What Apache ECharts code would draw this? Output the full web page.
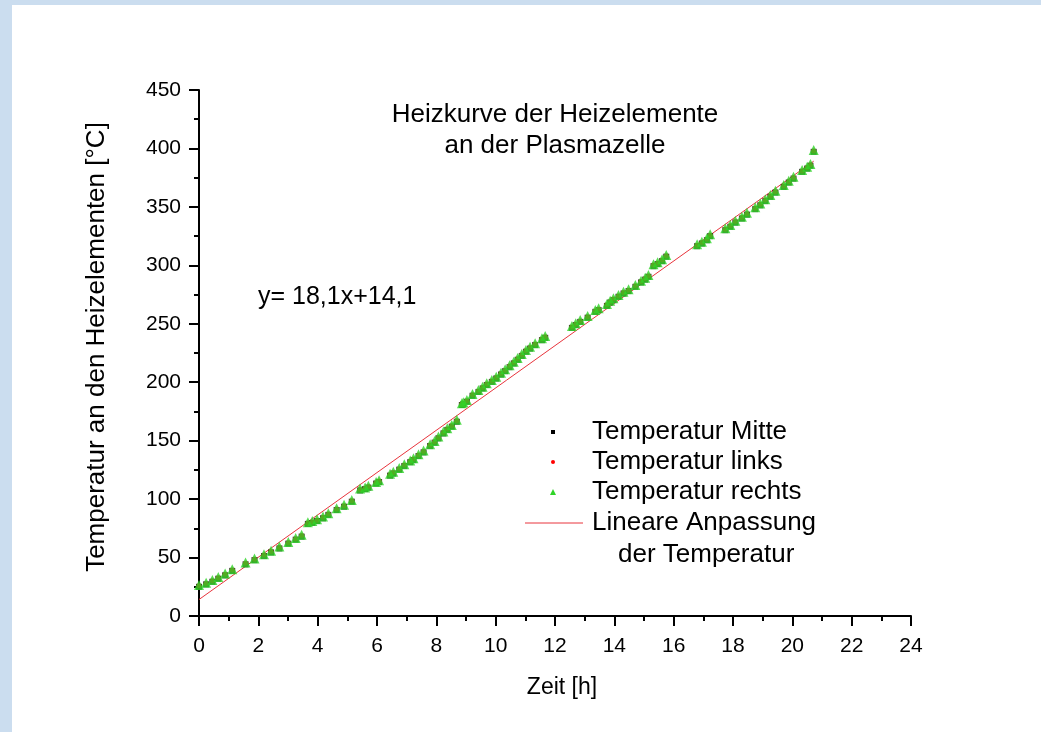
<!DOCTYPE html>
<html>
<head>
<meta charset="utf-8">
<title>Heizkurve</title>
<script src="https://cdn.jsdelivr.net/npm/echarts@6/dist/echarts.min.js"></script>
<style>
html, body { margin: 0; padding: 0; background: #fff; }
#main { width: 1041px; height: 732px; }
</style>
</head>
<body>
<div id="main"></div>
<script>
// Zeit [h]
var zeit = [0.00, 0.24, 0.45, 0.65, 0.88, 1.12, 1.57, 1.87, 2.19, 2.43,
  2.71, 3.01, 3.26, 3.46, 3.67, 3.82, 3.98, 4.18, 4.36, 4.64,
  4.89, 5.15, 5.43, 5.60, 5.71, 5.97, 6.07, 6.44, 6.55, 6.75,
  6.92, 7.12, 7.23, 7.40, 7.57, 7.79, 7.94, 8.07, 8.24, 8.37,
  8.52, 8.69, 8.86, 8.91, 9.03, 9.22, 9.42, 9.56, 9.70, 9.87,
  10.02, 10.18, 10.32, 10.47, 10.61, 10.74, 10.88, 11.02, 11.16, 11.33,
  11.56, 11.67, 12.57, 12.70, 12.85, 13.10, 13.36, 13.47, 13.75, 13.86,
  13.97, 14.14, 14.31, 14.48, 14.71, 14.90, 15.04, 15.15, 15.32, 15.46,
  15.61, 15.75, 16.79, 16.95, 17.12, 17.23, 17.74, 17.91, 18.08, 18.30,
  18.47, 18.75, 18.92, 19.09, 19.26, 19.43, 19.71, 19.88, 20.04, 20.33,
  20.50, 20.61, 20.72];

// Temperatur Mitte
var tempMitte = [25.0, 27.1, 29.3, 31.9, 34.8, 38.6, 44.2, 47.8, 51.3, 54.4,
  57.8, 61.9, 65.3, 67.9, 78.8, 79.6, 81.3, 83.6, 86.5, 90.7,
  93.5, 97.8, 107.4, 108.6, 109.8, 113.3, 114.6, 120.1, 121.9, 125.2,
  128.3, 131.6, 133.4, 136.9, 140.0, 145.4, 148.3, 152.0, 156.2, 159.2,
  162.0, 166.2, 180.5, 181.2, 183.3, 188.4, 191.7, 194.7, 197.6, 200.3,
  203.2, 206.6, 209.5, 212.9, 216.1, 219.2, 222.5, 226.1, 228.8, 231.8,
  236.0, 238.0, 246.5, 248.9, 251.6, 255.2, 260.2, 261.7, 265.3, 268.2,
  270.2, 273.1, 275.9, 278.0, 281.6, 285.4, 287.8, 290.2, 299.3, 301.1,
  303.6, 307.4, 316.4, 318.7, 321.5, 325.0, 330.1, 333.0, 336.6, 340.1,
  343.4, 348.1, 351.4, 355.0, 358.6, 362.3, 367.1, 370.9, 374.2, 380.0,
  382.8, 385.2, 397.1];

// Temperatur links
var tempLinks = [25.8, 27.9, 30.1, 32.7, 35.7, 39.3, 45.1, 48.5, 52.1, 55.2,
  58.6, 62.7, 66.1, 68.8, 79.5, 80.5, 82.0, 84.5, 87.2, 91.5,
  94.3, 98.5, 108.3, 109.2, 110.7, 114.0, 115.4, 120.9, 122.8, 125.9,
  129.2, 132.2, 134.3, 137.7, 140.7, 146.3, 149.0, 152.8, 157.0, 160.0,
  162.8, 167.0, 181.3, 182.0, 184.1, 189.2, 192.5, 195.5, 198.4, 201.1,
  204.0, 207.4, 210.3, 213.8, 216.8, 220.0, 223.3, 226.9, 229.6, 232.6,
  236.9, 238.8, 247.3, 249.7, 252.4, 256.0, 261.0, 262.5, 266.2, 268.9,
  271.1, 273.8, 276.8, 278.7, 282.5, 286.1, 288.7, 290.9, 300.2, 301.8,
  304.5, 308.1, 317.2, 319.5, 322.3, 325.8, 330.9, 333.8, 337.4, 340.9,
  344.2, 348.9, 352.2, 355.8, 359.4, 363.0, 367.9, 371.6, 375.1, 380.8,
  383.6, 386.0, 397.9];

// Temperatur rechts
var tempRechts = [26.5, 28.5, 30.9, 33.4, 36.4, 40.0, 45.8, 49.2, 52.9, 55.8,
  59.4, 63.4, 66.8, 69.5, 80.2, 81.2, 82.8, 85.2, 88.0, 92.2,
  95.1, 99.2, 109.0, 110.0, 111.4, 114.7, 116.2, 121.6, 123.5, 126.7,
  129.9, 133.0, 135.0, 138.4, 141.5, 147.0, 149.8, 153.5, 157.8, 160.7,
  163.5, 167.8, 182.0, 182.8, 184.8, 189.9, 193.3, 196.2, 199.1, 201.9,
  204.7, 208.2, 211.0, 214.5, 217.6, 220.7, 224.1, 227.6, 230.4, 233.3,
  237.6, 239.5, 248.1, 250.4, 253.2, 256.7, 261.8, 263.2, 266.9, 269.7,
  271.8, 274.6, 277.5, 279.5, 283.2, 286.9, 289.4, 291.7, 300.9, 302.6,
  305.2, 308.9, 318.0, 320.2, 323.1, 326.5, 331.7, 334.5, 338.2, 341.6,
  345.0, 349.6, 353.0, 356.5, 360.2, 363.8, 368.7, 372.4, 375.8, 381.5,
  384.4, 386.7, 398.7];

// Lineare Anpassung y = 18,1x + 14,1 (Endpunkte)
var fitZeit = [0, 20.72];
var fitTemp = [14.1, 389.1];

function pairs(xs, ys) {
  return xs.map(function (x, i) { return [x, ys[i]]; });
}

var font = "'Liberation Sans', Arial, sans-serif";
var chart = echarts.init(document.getElementById('main'));

chart.setOption({
  animation: false,
  backgroundColor: '#fff',
  textStyle: { fontFamily: font, color: '#000' },
  title: {
    text: 'Heizkurve der Heizelemente\nan der Plasmazelle',
    left: 550,
    top: 94,
    textAlign: 'center',
    textStyle: { fontFamily: font, fontSize: 26, fontWeight: 'normal', lineHeight: 31, color: '#000' }
  },
  grid: { left: 199, right: 130, top: 90, bottom: 116 },
  xAxis: {
    type: 'value',
    min: 0, max: 24, interval: 2,
    axisLine: { onZero: false, lineStyle: { color: '#000', width: 2 } },
    axisTick: { length: 10, lineStyle: { color: '#000', width: 2 } },
    minorTick: { show: true, splitNumber: 2, length: 5, lineStyle: { color: '#000', width: 2 } },
    axisLabel: { margin: 20, fontFamily: font, fontSize: 21, color: '#000' },
    splitLine: { show: false }
  },
  yAxis: {
    type: 'value',
    min: 0, max: 450, interval: 50,
    axisLine: { show: true, onZero: false, lineStyle: { color: '#000', width: 2 } },
    axisTick: { show: true, length: 10, lineStyle: { color: '#000', width: 2 } },
    minorTick: { show: true, splitNumber: 2, length: 5, lineStyle: { color: '#000', width: 2 } },
    axisLabel: { margin: 18, fontFamily: font, fontSize: 21, color: '#000' },
    splitLine: { show: false }
  },
  series: [
    {
      name: 'Temperatur Mitte',
      type: 'scatter',
      symbol: 'rect',
      symbolSize: 6,
      itemStyle: { color: '#000' },
      data: pairs(zeit, tempMitte)
    },
    {
      name: 'Temperatur links',
      type: 'scatter',
      symbol: 'circle',
      symbolSize: 5,
      itemStyle: { color: '#ff0000' },
      data: pairs(zeit, tempLinks)
    },
    {
      name: 'Temperatur rechts',
      type: 'scatter',
      symbol: 'triangle',
      symbolSize: 10,
      itemStyle: { color: '#30d428' },
      data: pairs(zeit, tempRechts)
    },
    {
      name: 'Lineare Anpassung',
      type: 'line',
      showSymbol: false,
      symbol: 'none',
      lineStyle: { color: '#e8343c', width: 1 },
      z: 1,
      data: pairs(fitZeit, fitTemp)
    }
  ],
  graphic: [
    // hellblauer Rahmen
    { type: 'rect', z: -10, shape: { x: 0, y: 0, width: 12, height: 732 }, style: { fill: '#cbddef' } },
    { type: 'rect', z: -10, shape: { x: 0, y: 0, width: 1041, height: 5 }, style: { fill: '#cbddef' } },
    // Achsentitel
    { type: 'text', x: 97, y: 347, rotation: Math.PI / 2,
      style: { text: 'Temperatur an den Heizelementen [°C]', fontFamily: font, fontSize: 26, fill: '#000', align: 'center', verticalAlign: 'middle' } },
    { type: 'text', x: 562, y: 688,
      style: { text: 'Zeit [h]', fontFamily: font, fontSize: 23, fill: '#000', align: 'center', verticalAlign: 'middle' } },
    // Gleichung
    { type: 'text', x: 258, y: 297, style: { text: 'y= 18,1x+14,1', fontFamily: font, fontSize: 25, fill: '#000', verticalAlign: 'middle' } },
    // Legende
    { type: 'rect', shape: { x: 551, y: 430, width: 4, height: 4 }, style: { fill: '#000' } },
    { type: 'circle', shape: { cx: 553, cy: 462, r: 2 }, style: { fill: '#ff0000' } },
    { type: 'polygon', shape: { points: [[553, 489], [556, 495], [550, 495]] }, style: { fill: '#30d428' } },
    { type: 'line', shape: { x1: 525, y1: 523, x2: 583, y2: 523 }, style: { stroke: '#e8343c', lineWidth: 1 } },
    { type: 'text', x: 592, y: 432, style: { text: 'Temperatur Mitte', fontFamily: font, fontSize: 26, fill: '#000', verticalAlign: 'middle' } },
    { type: 'text', x: 592, y: 462, style: { text: 'Temperatur links', fontFamily: font, fontSize: 26, fill: '#000', verticalAlign: 'middle' } },
    { type: 'text', x: 592, y: 492, style: { text: 'Temperatur rechts', fontFamily: font, fontSize: 26, fill: '#000', verticalAlign: 'middle' } },
    { type: 'text', x: 592, y: 523, style: { text: 'Lineare Anpassung', fontFamily: font, fontSize: 26, fill: '#000', verticalAlign: 'middle' } },
    { type: 'text', x: 618, y: 555, style: { text: 'der Temperatur', fontFamily: font, fontSize: 26, fill: '#000', verticalAlign: 'middle' } }
  ]
});
</script>
</body>
</html>
